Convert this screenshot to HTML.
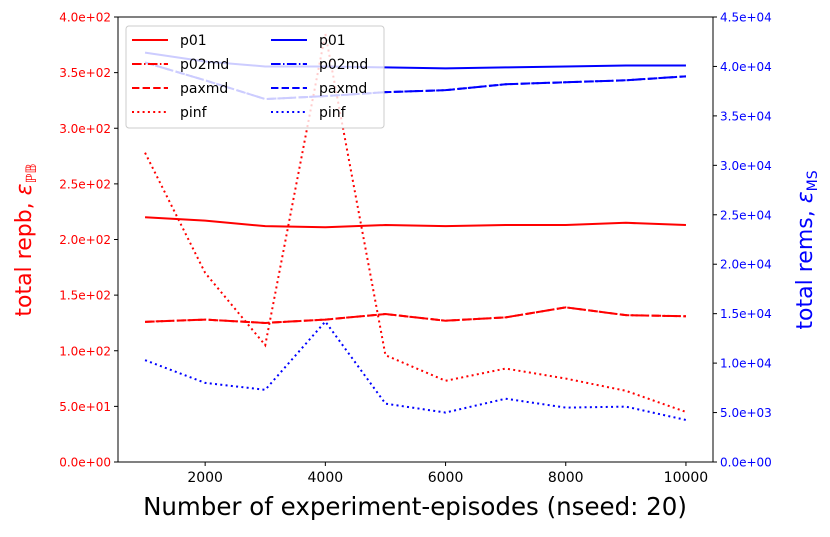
<!DOCTYPE html>
<html><head><meta charset="utf-8"><style>
body{margin:0;background:#fff;}
svg text{font-family:"DejaVu Sans","Liberation Sans",sans-serif;}
</style></head><body>
<svg id="chart" width="830" height="532" xmlns="http://www.w3.org/2000/svg"></svg>
<script>
const episodes=[1000,2000,3000,4000,5000,6000,7000,8000,9000,10000];
const repbP01=[220,217,212,211,213,212,213,213,215,213];
const repbP02md=[126,128,125,128,133,127,130,139,132,131];
const repbPaxmd=[126,128,125,128,133,127,130,139,132,131];
const repbPinf=[278,170,105,385,96,73,84,75,64,45];
const remsP01=[41400,40500,40000,40000,39900,39800,39900,40000,40100,40100];
const remsP02md=[40400,38600,36700,37000,37400,37600,38200,38400,38600,39000];
const remsPaxmd=[40400,38600,36700,37000,37400,37600,38200,38400,38600,39000];
const remsPinf=[10300,8000,7300,14200,5900,5000,6400,5500,5600,4250];
const leftTicks=[0,50,100,150,200,250,300,350,400];
const leftTickLabels=["0.0e+00","5.0e+01","1.0e+02","1.5e+02","2.0e+02","2.5e+02","3.0e+02","3.5e+02","4.0e+02"];
const rightTicks=[0,5000,10000,15000,20000,25000,30000,35000,40000,45000];
const rightTickLabels=["0.0e+00","5.0e+03","1.0e+04","1.5e+04","2.0e+04","2.5e+04","3.0e+04","3.5e+04","4.0e+04","4.5e+04"];
const xTicks=[2000,4000,6000,8000,10000];

const L=118,R=713,T=17,B=462;
const xS=v=>L+(v-550)/(10450-550)*(R-L);
const yL=v=>B-v/400*(B-T);
const yR=v=>B-v/45000*(B-T);
const svg=document.getElementById('chart');
const NS='http://www.w3.org/2000/svg';
function mk(tag,attrs,parent){const e=document.createElementNS(NS,tag);for(const k in attrs)e.setAttribute(k,attrs[k]);(parent||svg).appendChild(e);return e;}

function series(vals,ys,color,dash,name){
  const p=mk('polyline',{points:vals.map((v,i)=>xS(episodes[i])+','+ys(v)).join(' '),fill:'none',stroke:color,'stroke-width':2,'stroke-dasharray':dash});
  
  
}
series(repbP01,yL,'#f00','', 'repb-p01-line');
series(repbP02md,yL,'#f00','9.6,2.4,1.5,2.4','repb-p02md-line');
series(repbPaxmd,yL,'#f00','7.4,3.2','repb-paxmd-line');
series(repbPinf,yL,'#f00','2,3.3','repb-pinf-line');
series(remsP01,yR,'#00f','','rems-p01-line');
series(remsP02md,yR,'#00f','9.6,2.4,1.5,2.4','rems-p02md-line');
series(remsPaxmd,yR,'#00f','7.4,3.2','rems-paxmd-line');
series(remsPinf,yR,'#00f','2,3.3','rems-pinf-line');

const frame=mk('rect',{x:L,y:T,width:R-L,height:B-T,fill:'none',stroke:'#000','stroke-width':1});


leftTicks.forEach((v,i)=>{
  mk('line',{x1:L-4,x2:L,y1:yL(v),y2:yL(v),stroke:'#000'});
  const t=mk('text',{x:L-7,y:yL(v)+4.5,'text-anchor':'end','font-size':12,fill:'#f00'});t.textContent=leftTickLabels[i];
  
});
rightTicks.forEach((v,i)=>{
  mk('line',{x1:R,x2:R+4,y1:yR(v),y2:yR(v),stroke:'#000'});
  const t=mk('text',{x:R+7,y:yR(v)+4.5,'font-size':12,fill:'#00f'});t.textContent=rightTickLabels[i];
  
});
xTicks.forEach(v=>{
  mk('line',{x1:xS(v),x2:xS(v),y1:B,y2:B+4,stroke:'#000'});
  const t=mk('text',{x:xS(v),y:B+20,'text-anchor':'middle','font-size':14,fill:'#000'});t.textContent=v;
  
});

const lg=mk('g',{});

mk('rect',{x:126,y:26,width:258,height:102,rx:3,fill:'rgba(255,255,255,0.8)',stroke:'#ccc'},lg);
const names=['p01','p02md','paxmd','pinf'];
const dashes=['','9.6,2.4,1.5,2.4','7.4,3.2','2,3.3'];
[['#f00',132],['#00f',271]].forEach(([c,x0])=>{
  names.forEach((n,i)=>{
    const y=40+i*24;
    const g=mk('g',{},lg);
    
    mk('line',{x1:x0,x2:x0+36,y1:y,y2:y,stroke:c,'stroke-width':2,'stroke-dasharray':dashes[i]},g);
    const t=mk('text',{x:x0+48,y:y+5,'font-size':14,fill:'#000'},g);t.textContent=n;
  });
});

const xl=mk('text',{x:415,y:515,'text-anchor':'middle','font-size':24.5,fill:'#000'});
xl.textContent='Number of experiment-episodes (nseed: 20)';

const yl=mk('text',{x:0,y:0,'text-anchor':'middle','font-size':22,fill:'#f00',transform:'translate(31,240) rotate(-90)'});
yl.innerHTML='total repb, <tspan font-style="italic">ε</tspan><tspan font-size="14" dy="5">ℙ𝔹</tspan>';

const yr=mk('text',{x:0,y:0,'text-anchor':'middle','font-size':22,fill:'#00f',transform:'translate(812,250) rotate(-90)'});
yr.innerHTML='total rems, <tspan font-style="italic">ε</tspan><tspan font-size="14" dy="5">MS</tspan>';

</script>
</body></html>
